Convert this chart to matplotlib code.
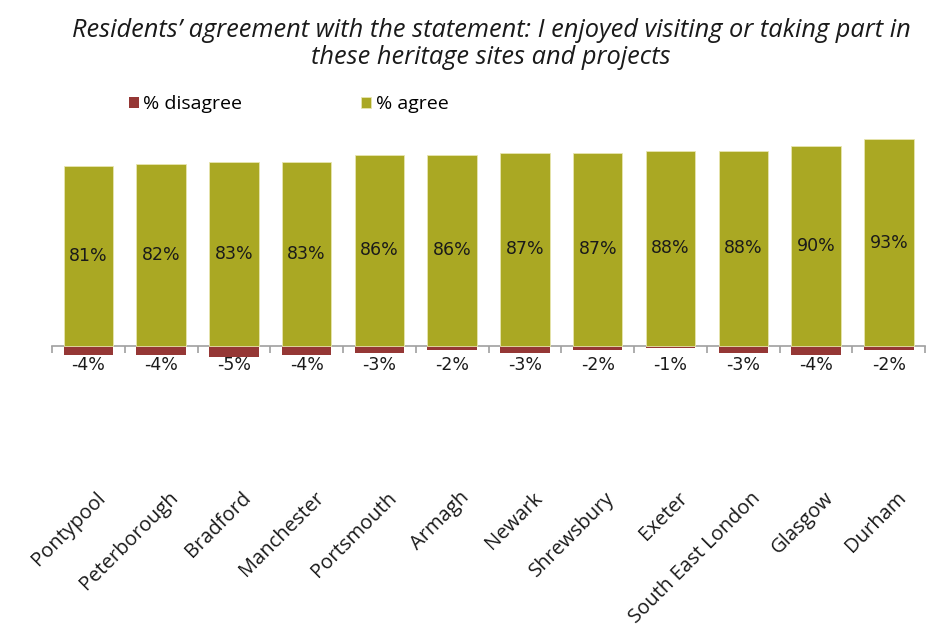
import numpy as np
import matplotlib.pyplot as plt
from matplotlib.transforms import blended_transform_factory

# Survey results per location
places = ["Pontypool", "Peterborough", "Bradford", "Manchester", "Portsmouth",
          "Armagh", "Newark", "Shrewsbury", "Exeter", "South East London",
          "Glasgow", "Durham"]
agree = [81, 82, 83, 83, 86, 86, 87, 87, 88, 88, 90, 93]
disagree = [-4, -4, -5, -4, -3, -2, -3, -2, -1, -3, -4, -2]

AGREE_COL = "#aaa823"
DISAGREE_COL = "#953735"

fig = plt.figure(figsize=(9.28, 6.32), dpi=100)
ax = fig.add_axes([0.056, 0.242, 0.941, 0.562])

x = np.arange(len(places))
ax.bar(x, disagree, width=0.68, color=DISAGREE_COL, label="% disagree", zorder=2)
ax.bar(x, agree, width=0.68, color=AGREE_COL, label="% agree", zorder=2,
       edgecolor="#e8e6b0", linewidth=0.6)

ax.set_xlim(-0.5, len(places) - 0.5)
ax.set_ylim(-60, 100)

# category axis sits on zero, ticks between categories
for side in ["top", "left", "right"]:
    ax.spines[side].set_visible(False)
ax.spines["bottom"].set_position(("data", 0))
ax.spines["bottom"].set_color("#a0a0a0")
ax.spines["bottom"].set_linewidth(1.2)
ax.spines["bottom"].set_zorder(1)
ax.set_xticks(np.arange(-0.5, len(places), 1.0))
ax.tick_params(axis="x", direction="out", length=5, color="#a0a0a0",
               width=1.2, labelbottom=False)
ax.set_yticks([])

# value labels
for xi, a, d in zip(x, agree, disagree):
    ax.text(xi, a / 2, f"{a}%", ha="center", va="center", fontsize=12.5,
            family="DejaVu Sans", color="#1a1a1a", zorder=3)
    ax.text(xi, -8.5, f"{d}%", ha="center", va="center", fontsize=12.5,
            family="DejaVu Sans", color="#1a1a1a", zorder=3)

# category names at the bottom of the plot area
trans = blended_transform_factory(ax.transData, ax.transAxes)
for xi, name in zip(x, places):
    ax.text(xi + 0.1, -0.025, name, transform=trans, rotation=45,
            rotation_mode="anchor", ha="right", va="top", fontsize=14.5,
            family="Open Sans", color="#1a1a1a")

fig.text(0.529, 0.972, "Residents\u2019 agreement with the statement: I enjoyed visiting or taking part in\n"
         "these heritage sites and projects", ha="center", va="top",
         fontsize=18.3, style="italic", family="Open Sans", linespacing=1.1,
         color="#1a1a1a")

leg = ax.legend(loc="upper left", bbox_to_anchor=(0.068, 1.13), ncol=2,
                frameon=False, handlelength=0.5, handleheight=0.5,
                handletextpad=0.25, columnspacing=6.1,
                prop={"family": "Open Sans", "size": 14})

fig.savefig("out.png", dpi=100, facecolor="white")
